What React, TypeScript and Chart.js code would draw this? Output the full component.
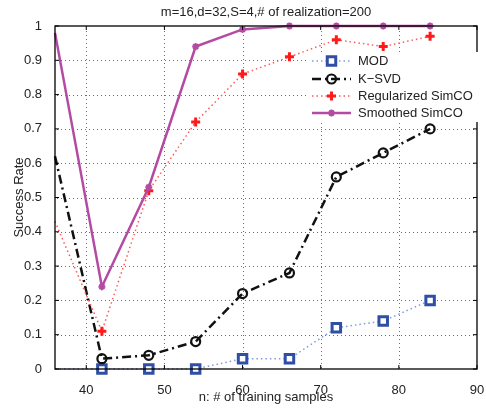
import React, { useEffect, useRef } from "react";
import { Chart, registerables } from "chart.js";

Chart.register(...registerables);

const titleText = "m=16,d=32,S=4,# of realization=200";
const xAxisTitle = "n: # of training samples";
const yAxisTitle = "Success Rate";

const xValues = [36, 42, 48, 54, 60, 66, 72, 78, 84];
const modValues = [0, 0, 0, 0, 0.03, 0.03, 0.12, 0.14, 0.2];
const ksvdValues = [0.62, 0.03, 0.04, 0.08, 0.22, 0.28, 0.56, 0.63, 0.7];
const regValues = [0.43, 0.11, 0.52, 0.72, 0.86, 0.91, 0.96, 0.94, 0.97];
const smoothValues = [0.98, 0.24, 0.53, 0.94, 0.99, 1, 1, 1, 1];

const seriesNames = ["MOD", "K\u2212SVD", "Regularized SimCO", "Smoothed SimCO"];

const xTicks = [40, 50, 60, 70, 80, 90];
const yTicks = [0, 0.1, 0.2, 0.3, 0.4, 0.5, 0.6, 0.7, 0.8, 0.9, 1];

const FONT = "'Liberation Sans', Arial, Helvetica, sans-serif";

const styles = [
  {
    line: "#7f9ae0",
    lineWidth: 1.5,
    dash: [1.5, 3],
    point: "rect",
    pointColor: "#2f4ea6",
    pointFill: "#ffffff",
    radius: 6,
    pointBorder: 3,
  },
  {
    line: "#111111",
    lineWidth: 2.5,
    dash: [9, 4, 2, 4],
    point: "circle",
    pointColor: "#111111",
    pointFill: "rgba(255,255,255,0)",
    radius: 4.5,
    pointBorder: 2.2,
  },
  {
    line: "#ff5a5a",
    lineWidth: 1.5,
    dash: [1.5, 3],
    point: "cross",
    pointColor: "#ff1a1a",
    pointFill: "#ff1a1a",
    radius: 4.5,
    pointBorder: 3,
  },
  {
    line: "#b44ba3",
    lineWidth: 2.5,
    dash: [],
    point: "star",
    pointColor: "#b44ba3",
    pointFill: "#b44ba3",
    radius: 3.5,
    pointBorder: 2,
  },
];

const seriesValues = [modValues, ksvdValues, regValues, smoothValues];

function drawPoint(ctx: any, o: any, x: number, y: number) {
  const r = o.radius;
  ctx.beginPath();
  if (o.pointStyle === "rect") {
    const h = r * Math.SQRT1_2;
    ctx.rect(x - h, y - h, h * 2, h * 2);
    ctx.fill();
    ctx.stroke();
  } else if (o.pointStyle === "circle") {
    ctx.arc(x, y, r, 0, Math.PI * 2);
    ctx.fill();
    ctx.stroke();
  } else if (o.pointStyle === "cross") {
    ctx.moveTo(x - r, y);
    ctx.lineTo(x + r, y);
    ctx.moveTo(x, y - r);
    ctx.lineTo(x, y + r);
    ctx.stroke();
  } else {
    for (let k = 0; k < 4; k++) {
      const ang = (k * Math.PI) / 4;
      ctx.moveTo(x - Math.cos(ang) * r, y - Math.sin(ang) * r);
      ctx.lineTo(x + Math.cos(ang) * r, y + Math.sin(ang) * r);
    }
    ctx.stroke();
  }
}

const gridPlugin = {
  id: "dottedGrid",
  beforeDatasetsDraw(chart: any) {
    const ctx = chart.ctx;
    const xs = chart.scales.x;
    const ys = chart.scales.y;
    const left = Math.round(xs.left);
    const right = Math.round(xs.right);
    const top = Math.round(ys.top);
    const bottom = Math.round(ys.bottom);
    ctx.save();
    ctx.fillStyle = "rgba(60,60,60,0.75)";
    xTicks.forEach((v) => {
      const px = Math.round(xs.getPixelForValue(v));
      if (px <= left + 1 || px >= right - 1) return;
      for (let y = bottom - 2; y > top + 1; y -= 4) {
        ctx.fillRect(px, y, 1, 1);
      }
    });
    yTicks.forEach((v) => {
      const py = Math.round(ys.getPixelForValue(v));
      if (py <= top + 1 || py >= bottom - 1) return;
      for (let x = left + 2; x < right - 1; x += 4) {
        ctx.fillRect(x, py, 1, 1);
      }
    });
    ctx.restore();
  },
};

const decorPlugin = {
  id: "decor",
  afterDraw(chart: any) {
    const ctx = chart.ctx;
    const xs = chart.scales.x;
    const ys = chart.scales.y;
    const a = { left: xs.left, right: xs.right, top: ys.top, bottom: ys.bottom };
    ctx.save();
    ctx.setLineDash([]);
    ctx.strokeStyle = "#000";
    ctx.lineWidth = 1.3;
    ctx.strokeRect(a.left, a.top, a.right - a.left, a.bottom - a.top);
    ctx.lineWidth = 1;
    ctx.beginPath();
    xTicks.forEach((v) => {
      const px = xs.getPixelForValue(v);
      ctx.moveTo(px, a.bottom);
      ctx.lineTo(px, a.bottom - 4);
      ctx.moveTo(px, a.top);
      ctx.lineTo(px, a.top + 4);
    });
    yTicks.forEach((v) => {
      const py = ys.getPixelForValue(v);
      ctx.moveTo(a.left, py);
      ctx.lineTo(a.left + 4, py);
      ctx.moveTo(a.right, py);
      ctx.lineTo(a.right - 4, py);
    });
    ctx.stroke();

    ctx.fillStyle = "#222";
    ctx.font = `13px ${FONT}`;
    ctx.textAlign = "center";
    ctx.textBaseline = "middle";
    ctx.fillText(titleText, (a.left + a.right) / 2, 12);
    ctx.fillText(xAxisTitle, (a.left + a.right) / 2, 397);
    ctx.save();
    ctx.translate(19, (a.top + a.bottom) / 2);
    ctx.rotate(-Math.PI / 2);
    ctx.fillText(yAxisTitle, 0, 0);
    ctx.restore();

    const lx0 = 312;
    const lx1 = 351;
    const tx = 358;
    const rowY = [61, 79, 96, 113];
    ctx.fillStyle = "#fff";
    ctx.fillRect(lx0 - 4, rowY[0] - 9, 172, rowY[3] - rowY[0] + 18);
    seriesNames.forEach((name, i) => {
      const s = styles[i];
      const y = rowY[i];
      ctx.strokeStyle = s.line;
      ctx.lineWidth = s.lineWidth;
      ctx.setLineDash(s.dash);
      ctx.beginPath();
      ctx.moveTo(lx0, y);
      ctx.lineTo(lx1, y);
      ctx.stroke();
      ctx.setLineDash([]);
      const mx = (lx0 + lx1) / 2;
      ctx.strokeStyle = s.pointColor;
      ctx.fillStyle = s.pointFill;
      ctx.lineWidth = s.pointBorder;
      drawPoint(ctx, { pointStyle: s.point, radius: s.radius }, mx, y);
      ctx.fillStyle = "#222";
      ctx.font = `13px ${FONT}`;
      ctx.textAlign = "left";
      ctx.textBaseline = "middle";
      ctx.fillText(name, tx, y);
    });
    ctx.restore();
  },
};

export default function App() {
  const ref = useRef<HTMLCanvasElement>(null);
  useEffect(() => {
    document.body.style.margin = "0";
    const canvas = ref.current!;
    const datasets = seriesValues.map((vals, i) => {
      const s = styles[i];
      return {
        label: seriesNames[i],
        data: vals.map((v, j) => ({ x: xValues[j], y: v })),
        borderColor: s.line,
        borderWidth: s.lineWidth,
        borderDash: s.dash,
        backgroundColor: s.pointFill,
        pointStyle: s.point,
        pointRadius: vals.map((_, j) => (j === 0 ? 0 : s.radius)),
        pointBorderWidth: s.pointBorder,
        pointBorderColor: s.pointColor,
        pointBackgroundColor: s.pointFill,
        pointHoverRadius: 0,
        tension: 0,
        fill: false,
        clip: 12,
        order: 4 - i,
      };
    });
    const chart = new Chart(canvas, {
      type: "line",
      data: { datasets },
      options: {
        animation: false,
        responsive: false,
        maintainAspectRatio: false,
        layout: { padding: { top: 26, right: 5, left: 0, bottom: 0 } },
        plugins: {
          legend: { display: false },
          title: { display: false },
          tooltip: { enabled: false },
        },
        scales: {
          x: {
            type: "linear",
            min: 36,
            max: 90,
            afterBuildTicks: (s: any) => {
              s.ticks = xTicks.map((v) => ({ value: v }));
            },
            afterFit: (s: any) => {
              s.height = 41;
              s.paddingLeft = 0;
              s.paddingRight = 0;
            },
            grid: { display: false },
            border: { display: false },
            ticks: {
              color: "#222",
              font: { family: FONT, size: 13 },
              padding: 6,
              maxRotation: 0,
              callback: (v: any) => String(v),
            },
          },
          y: {
            type: "linear",
            min: 0,
            max: 1,
            afterBuildTicks: (s: any) => {
              s.ticks = yTicks.map((v) => ({ value: v }));
            },
            afterFit: (s: any) => {
              s.width = 55;
              s.paddingTop = 0;
              s.paddingBottom = 0;
            },
            grid: { display: false },
            border: { display: false },
            ticks: {
              color: "#222",
              font: { family: FONT, size: 13 },
              padding: 5,
              callback: (v: any) => String(Math.round(v * 10) / 10),
            },
          },
        },
      },
      plugins: [gridPlugin, decorPlugin],
    } as any);
    return () => chart.destroy();
  }, []);
  return (
    <div style={{ position: "absolute", left: 0, top: 0, width: 486, height: 410, background: "#fff" }}>
      <canvas ref={ref} width={486} height={410} style={{ width: 486, height: 410 }} />
    </div>
  );
}
